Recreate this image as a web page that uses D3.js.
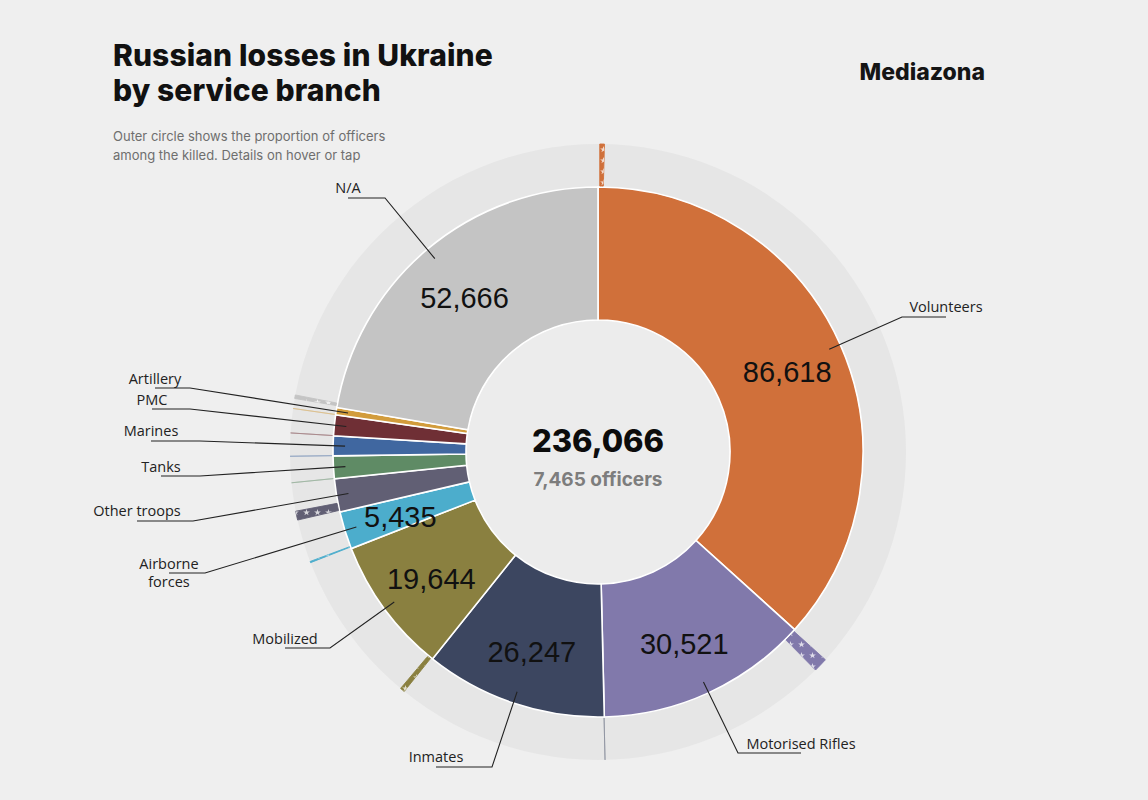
<!DOCTYPE html>
<html>
<head>
<meta charset="utf-8">
<script src="https://cdn.jsdelivr.net/npm/d3@7"></script>
<style>
  body { margin: 0; background: #efefef; }
  svg { display: block; }
  .title { font-family: Inter, sans-serif; font-weight: 800; font-size: 30px; fill: #111; letter-spacing: 0.1px; }
  .subtitle { font-family: Inter, sans-serif; font-size: 13px; fill: #6e6e6e; }
  .brand { font-family: Inter, sans-serif; font-weight: 800; font-size: 23px; fill: #151515; }
  .value { font-family: "Liberation Sans", Arial, sans-serif; font-size: 29px; fill: #111; }
  .callout { font-family: "Open Sans", sans-serif; font-size: 14.5px; fill: #222; }
  .leader { fill: none; stroke: #222; stroke-width: 1.1; }
</style>
</head>
<body>
<div id="chart"></div>
<script>
(function(){

  //categories clockwise from 12 o'clock
  var categories = ["Volunteers", "Motorised Rifles", "Inmates", "Mobilized", "Airborne forces",
                    "Other troops", "Tanks", "Marines", "PMC", "Artillery", "N/A"];
  //killed per branch
  var killed = [86618, 30521, 26247, 19644, 5435, 4785, 3250, 2850, 2990, 1060, 52666];
  //officers among the killed (outer ring)
  var officers = [1000, 2160, 70, 1000, 580, 1530, 75, 60, 55, 75, 860];
  var totalOfficers = 7465;

  var colors = ["#d0703a", "#8179ab", "#3c4660", "#8a8040", "#4cadcc",
                "#615f74", "#5f8b65", "#4067a0", "#6f2f35", "#d29c3c", "#c4c4c4"];

  //callout label layout: text x, text baseline, elbow x, elbow y
  var calloutPos = [
    [946, 312, 902, 317],
    [801, 749, 738, 753],
    [436, 762, 492, 767],
    [285, 644, 330, 648],
    [169, 569, 205, 573],
    [137, 516, 193, 521],
    [161, 472, 200, 476],
    [151, 436, 200, 441],
    [152, 405, 190, 409],
    [155, 384, 190, 388],
    [348, 193, 385, 198]
  ];

  var width = 1148, height = 800;
  var cx = 598, cy = 452;
  var rInner = 132, rPie = 265, rRing = 308;

  var svg = d3.select("#chart")
    .append("svg")
    .attr("width", width)
    .attr("height", height);

  //star pattern for officer wedges
  var defs = svg.append("defs");
  var pat = defs.append("pattern")
    .attr("id", "stars")
    .attr("patternUnits", "userSpaceOnUse")
    .attr("width", 11)
    .attr("height", 11);
  var star = d3.symbol().type(d3.symbolStar).size(14);
  pat.append("path")
    .attr("d", star())
    .attr("transform", "translate(5.5,5.5)")
    .attr("fill", "#fff")
    .attr("opacity", 0.75);

  //titles
  svg.append("text").attr("class", "title").attr("x", 113).attr("y", 66).text("Russian losses in Ukraine");
  svg.append("text").attr("class", "title").attr("x", 113).attr("y", 101).text("by service branch");
  svg.append("text").attr("class", "subtitle").attr("x", 113).attr("y", 141).text("Outer circle shows the proportion of officers");
  svg.append("text").attr("class", "subtitle").attr("x", 113).attr("y", 160).text("among the killed. Details on hover or tap");
  svg.append("text").attr("class", "brand").attr("x", 985).attr("y", 80).attr("text-anchor", "end").text("Mediazona");

  var g = svg.append("g").attr("transform", "translate(" + cx + "," + cy + ")");

  var data = categories.map(function(c, i){
    return {name: c, killed: killed[i], officers: officers[i], color: colors[i]};
  });
  var total = d3.sum(killed);

  //outer ring background
  g.append("path")
    .attr("d", d3.arc().innerRadius(rPie).outerRadius(rRing)({startAngle: 0, endAngle: 2 * Math.PI}))
    .attr("fill", "#e6e6e6");

  var pie = d3.pie()
    .sort(null)
    .value(function(d){ return d.killed; });
  var arcs = pie(data);

  var arc = d3.arc().innerRadius(rInner).outerRadius(rPie);

  //main slices
  g.selectAll(".slice")
    .data(arcs)
    .enter()
    .append("path")
    .attr("class", "slice")
    .attr("d", arc)
    .attr("fill", function(d){ return d.data.color; })
    .attr("stroke", "#fff")
    .attr("stroke-width", 1.6);

  //officer wedges, starting at each slice's start angle
  var offArc = d3.arc().innerRadius(rPie + 1).outerRadius(rRing).padAngle(0.0086);
  var offArcs = arcs.map(function(d){
    return {
      startAngle: d.startAngle,
      endAngle: d.startAngle + d.data.officers / total * 2 * Math.PI,
      data: d.data
    };
  });
  var offG = g.selectAll(".officers")
    .data(offArcs)
    .enter()
    .append("g")
    .attr("class", "officers")
    .attr("opacity", function(d){ return d.data.officers < 200 ? 0.55 : 1; });
  offG.append("path")
    .attr("d", offArc)
    .attr("fill", function(d){ return d.data.color; })
    .attr("stroke", function(d){ return d.data.color; })
    .attr("stroke-width", function(d){ return d.data.officers < 200 ? 0.7 : 0.9; });
  offG.append("path")
    .attr("d", offArc)
    .attr("fill", "url(#stars)");

  //inner hole
  g.append("circle").attr("r", rInner - 1).attr("fill", "#ececec");

  //values inside the big slices
  var labelArc = d3.arc().innerRadius(207).outerRadius(207);
  g.selectAll(".value")
    .data(arcs.filter(function(d){ return d.data.killed >= 5000; }))
    .enter()
    .append("text")
    .attr("class", "value")
    .attr("text-anchor", "middle")
    .attr("x", function(d){ return labelArc.centroid(d)[0]; })
    .attr("y", function(d){ return labelArc.centroid(d)[1] + 14; })
    .text(function(d){ return d3.format(",")(d.data.killed); });

  //center totals
  g.append("text")
    .attr("text-anchor", "middle")
    .attr("y", 0)
    .style("font-family", "Inter, sans-serif")
    .style("font-weight", 800)
    .style("font-size", "31px")
    .style("fill", "#0c0c0c")
    .text(d3.format(",")(total));
  g.append("text")
    .attr("text-anchor", "middle")
    .attr("y", 34)
    .style("font-family", "Inter, sans-serif")
    .style("font-weight", 700)
    .style("font-size", "19px")
    .style("fill", "#7d7d7d")
    .text(d3.format(",")(totalOfficers) + " officers");

  //callouts
  var anchorArc = d3.arc().innerRadius(253).outerRadius(253);
  arcs.forEach(function(d, i){
    var p = calloutPos[i];
    var a = anchorArc.centroid(d);
    var ax = a[0] + cx, ay = a[1] + cy;
    svg.append("path")
      .attr("class", "leader")
      .attr("d", d3.line()([[p[0], p[3]], [p[2], p[3]], [ax, ay]]));
    var lines = d.data.name == "Airborne forces" ? ["Airborne", "forces"] : [d.data.name];
    var t = svg.append("text")
      .attr("class", "callout")
      .attr("text-anchor", "middle")
      .attr("x", p[0])
      .attr("y", p[1]);
    lines.forEach(function(l, j){
      t.append("tspan").attr("x", p[0]).attr("dy", j == 0 ? 0 : 18).text(l);
    });
  });

})();
</script>
</body>
</html>
